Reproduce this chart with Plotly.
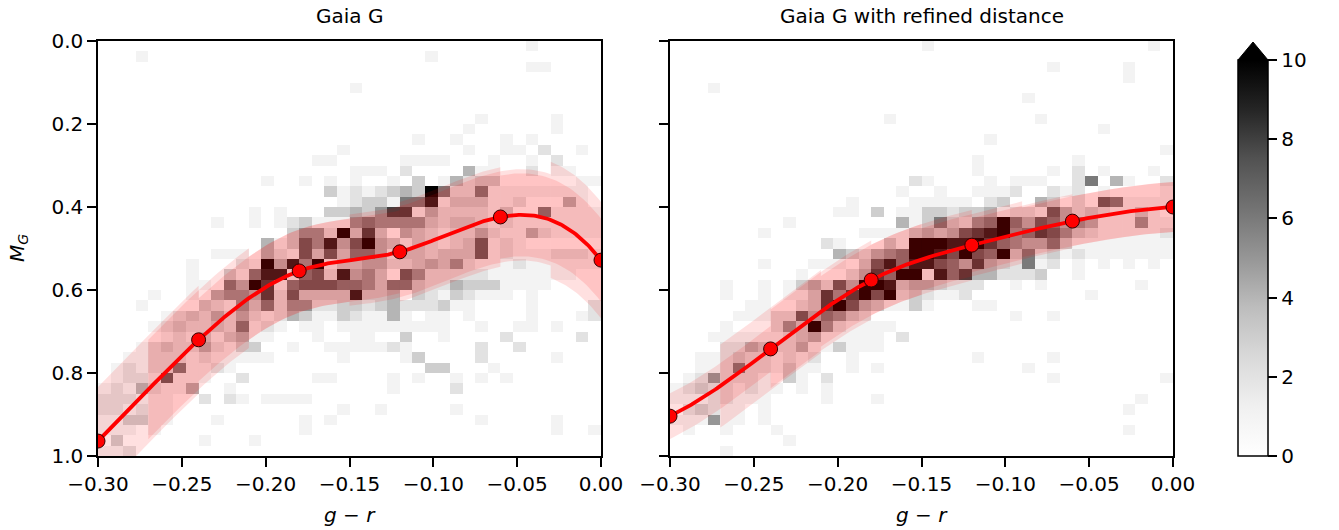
import numpy as np
import plotly.graph_objects as go

# ---------------- data ----------------
bin_edges_x = np.linspace(-0.30, 0.00, 41)
bin_edges_y = np.linspace(0.0, 1.0, 41)

knots_x = [-0.30, -0.24, -0.18, -0.12, -0.06, 0.00]
knots_gaia = [0.964, 0.720, 0.554, 0.508, 0.424, 0.528]
knots_refined = [0.904, 0.742, 0.576, 0.492, 0.434, 0.400]

band_starts = [-0.30, -0.27, -0.24, -0.21, -0.18, -0.15, -0.12, -0.09, -0.06, -0.03]
band_hw_gaia = [0.13, 0.12, 0.10, 0.10, 0.10, 0.11, 0.12, 0.11, 0.10, 0.14]
band_hw_refined = [0.055, 0.10, 0.095, 0.085, 0.085, 0.075, 0.065, 0.06, 0.06, 0.06]

# 2D histogram counts, rows top (M=0) to bottom (M=1), '.'=0, 'A'=10+
counts_gaia = [
    ".......... .......... .......... ....1.....",
    "...1...... .......... ......1... ..........",
    ".......... .......... .......... ....11....",
    ".......... .......... .......... ..........",
    ".......... .......... 1......... ..........",
    ".......... .......... .......... ..........",
    ".......... .......... .......... ..........",
    ".......... .......... .......... 1.....1...",
    ".......... .......... .........1 ......1...",
    ".......... .......... .....1..1. ..1.1.....",
    ".......... .........1 .........1 ..11.2..1.",
    ".......... .......11. ....1111.. .1..1.2...",
    ".......... .......... 111.2....4 11..2.11..",
    ".......... ...1..1.1. 1..1.3.142 33......11",
    ".......... ........31 212343A622 611111111.",
    ".......... .........1 2331669133 3112...41.",
    ".......... ..1.1...33 4358814222 213..61111",
    ".........1 ..1.123111 5655553233 2121111111",
    ".......... .....3552A 383.432122 4211421111",
    ".......... ...4137594 7A43132123 7121......",
    ".........1 11.4217373 6641332333 7121112221",
    ".......1.. .21A495A13 3442234352 1112111111",
    ".......1.. 3169916729 453.752222 21111111..",
    ".......11. 64A8167776 6536632243 331111....",
    "....1..1.4 5548273333 9334.32132 111.1.....",
    "...1....32 1536255223 3234222311 ....1....2",
    ".....12324 2421243113 21141.11.1 ....1...12",
    "....123223 26121.11.1 11111111.. 1..11.1...",
    ".....12131 3411...1.. 11..3..1.. ..2.....2.",
    "...1232242 133..1..11 11121..... 2..2......",
    "..11222121 1111.....1 ....13.... 2.....1...",
    ".121226112 1......... ......33.. .1........",
    ".12217111. .2.....11. ...1.1..1. 1.1.......",
    "12142114.. 1......... ...1....2. ..........",
    "222111..2. 21.1111... .......... ..........",
    "221211.... .........1 ..1.....1. ..........",
    "113311...1 ......1.1. .......... 1.....1...",
    "111.1..... ......1... .......... ......1..1",
    ".3......1. ..1....... .......... ..........",
    "112....... .......... .......... ..........",
]

counts_refined = [
    ".......... .......... 1......... ........1.",
    ".......... .......... .......... ..........",
    ".......... .......... .......... 1.....1...",
    ".......... .......... .......... ......1...",
    "...1...... .......... .......... ..........",
    ".......... .......... ........1. ..........",
    ".......... .......... .......... ..........",
    ".......... .......1.. .........1 ..........",
    ".......... .......... .......... ....1.....",
    ".......... .......... .....1.... ..........",
    ".......... .......... .......... .........1",
    ".......... .......... ....1..... ..1.......",
    ".......... .......... ....1..... 1.2.1...1.",
    ".......... .........2 1....1.111 ..26.41..2",
    ".......... ........1. .1..1112.. 212.1....1",
    ".......... ....1....1 1111.23..4 3.2.761111",
    ".......... ...11.3.11 3323341221 742321131.",
    ".........1 ........41 363256A647 6454111511",
    ".......1.. .....11113 434789A568 7532111112",
    ".......... ..21...31A AA99A86544 6311111111",
    ".......... ...432456A A97A76A362 3121111111",
    ".......1.. .111.37969 9764843261 2.1.1.1.1.",
    ".......... 1...2486AA 1968442223 ..1.......",
    "....1..1.1 34274AA934 43222..1.1 .......1..",
    "....1..1.1 13858A7A23 2112...... ...1......",
    "......11.. 238A743113 1...11.... ..........",
    ".....11122 746532.... .......1.. 1.........",
    "....1...25 3A521111.. .......... ..........",
    "...1111112 3411111.2. .......... ..........",
    "....224322 4113111... .......... ..........",
    "..11232212 12..1..... ....1..... 1.........",
    "..11262213 11..1.1... ........1. ..........",
    ".1252221.3 1.2....... .......... 1........1",
    "123221211. 1.1....... .......... ..........",
    "11122111.. ..1...1... .......... .......1..",
    ".23211.1.. .......... .......... ......1...",
    "111511.1.. .......... .......... ..........",
    ".1..1...1. .......... .......... ......1...",
    ".........1 .......... .......... ..........",
    "....1..... .......... .......... ..........",
]

x_tick_vals = [-0.30, -0.25, -0.20, -0.15, -0.10, -0.05, 0.00]
x_tick_text = ["\u22120.30", "\u22120.25", "\u22120.20", "\u22120.15", "\u22120.10", "\u22120.05", "0.00"]
y_tick_vals = [0.0, 0.2, 0.4, 0.6, 0.8, 1.0]
y_tick_text = ["0.0", "0.2", "0.4", "0.6", "0.8", "1.0"]
cbar_tick_vals = [0, 2, 4, 6, 8, 10]
panel_titles = ["Gaia G", "Gaia G with refined distance"]

# ---------------- helpers ----------------
def parse(rows):
    out = []
    for r in rows:
        s = r.replace(" ", "").ljust(40, ".")[:40]
        out.append([10 if ch == "A" else (0 if ch == "." else int(ch)) for ch in s])
    return np.array(out, float)


def spline_nak(xk, yk, xs):
    """Cubic spline through knots with not-a-knot end conditions."""
    xk = np.asarray(xk, float); yk = np.asarray(yk, float); xs = np.asarray(xs, float)
    n = len(xk); h = np.diff(xk)
    A = np.zeros((n, n)); r = np.zeros(n)
    A[0, 0] = h[1]; A[0, 1] = -(h[0] + h[1]); A[0, 2] = h[0]
    A[-1, -3] = h[-1]; A[-1, -2] = -(h[-2] + h[-1]); A[-1, -1] = h[-2]
    for i in range(1, n - 1):
        A[i, i - 1] = h[i - 1]; A[i, i] = 2 * (h[i - 1] + h[i]); A[i, i + 1] = h[i]
        r[i] = 3 * ((yk[i + 1] - yk[i]) / h[i] - (yk[i] - yk[i - 1]) / h[i - 1])
    c = np.linalg.solve(A, r)
    b = (yk[1:] - yk[:-1]) / h - h * (2 * c[:-1] + c[1:]) / 3
    d = (c[1:] - c[:-1]) / (3 * h)
    idx = np.clip(np.searchsorted(xk, xs) - 1, 0, n - 2)
    dx = xs - xk[idx]
    return yk[idx] + b[idx] * dx + c[idx] * dx ** 2 + d[idx] * dx ** 3


W, H = 1339, 530
FONT = "DejaVu Sans"
FS = 20
greys = [[0.0, "#ffffff"], [0.125, "#f0f0f0"], [0.25, "#d9d9d9"], [0.375, "#bdbdbd"],
         [0.5, "#969696"], [0.625, "#737373"], [0.75, "#525252"], [0.875, "#252525"], [1.0, "#000000"]]

xc = 0.5 * (bin_edges_x[:-1] + bin_edges_x[1:])
yc = 0.5 * (bin_edges_y[:-1] + bin_edges_y[1:])

fig = go.Figure()
panels = [
    (counts_gaia, knots_gaia, band_hw_gaia, "x", "y"),
    (counts_refined, knots_refined, band_hw_refined, "x2", "y2"),
]
for counts, ky, hw, xa, ya in panels:
    fig.add_trace(go.Heatmap(z=parse(counts), x=xc, y=yc, coloraxis="coloraxis",
                             xaxis=xa, yaxis=ya, hoverinfo="skip"))
    for s, w in zip(band_starts, hw):
        xs = np.linspace(max(s, -0.30), min(s + 0.06, 0.0), 30)
        yy = spline_nak(knots_x, ky, xs)
        px = np.concatenate([xs, xs[::-1]])
        py = np.concatenate([yy - w, (yy + w)[::-1]])
        fig.add_trace(go.Scatter(x=px, y=py, fill="toself", mode="lines",
                                 line=dict(width=0), fillcolor="rgba(255,0,0,0.12)",
                                 xaxis=xa, yaxis=ya, hoverinfo="skip", showlegend=False))
    xf = np.linspace(-0.30, 0.0, 301)
    fig.add_trace(go.Scatter(x=xf, y=spline_nak(knots_x, ky, xf), mode="lines",
                             line=dict(color="#ff0000", width=3.8),
                             xaxis=xa, yaxis=ya, showlegend=False, hoverinfo="skip"))
    fig.add_trace(go.Scatter(x=knots_x, y=ky, mode="markers",
                             marker=dict(color="#ff0000", size=14, line=dict(color="#330000", width=1)),
                             xaxis=xa, yaxis=ya, showlegend=False, hoverinfo="skip"))

ax_common = dict(showline=True, mirror=True, linecolor="black", linewidth=1.5,
                 ticks="outside", ticklen=9, tickwidth=1.5, tickcolor="black", automargin=False,
                 showgrid=False, zeroline=False, tickfont=dict(family=FONT, size=FS, color="black"))
ydom = [1 - 456 / H, 1 - 41 / H]
fig.update_layout(
    template="none",
    width=W, height=H, margin=dict(l=0, r=0, t=0, b=0, autoexpand=False),
    paper_bgcolor="white", plot_bgcolor="white", showlegend=False,
    font=dict(family=FONT, size=FS, color="black"),
    xaxis=dict(domain=[98 / W, 601 / W], range=[-0.30, 0.0], tickvals=x_tick_vals,
               ticktext=x_tick_text, anchor="y", **ax_common),
    yaxis=dict(domain=ydom, range=[1.0, 0.0], tickvals=y_tick_vals, ticktext=y_tick_text,
               anchor="x", **ax_common),
    xaxis2=dict(domain=[670 / W, 1173 / W], range=[-0.30, 0.0], tickvals=x_tick_vals,
                ticktext=x_tick_text, anchor="y2", **ax_common),
    yaxis2=dict(domain=ydom, range=[1.0, 0.0], tickvals=y_tick_vals, showticklabels=False,
                anchor="x2", **ax_common),
    coloraxis=dict(colorscale=greys, cmin=0, cmax=10,
                   colorbar=dict(thickness=30, thicknessmode="pixels",
                                 len=396 / H, lenmode="fraction", y=1 - 456 / H, yanchor="bottom",
                                 x=1238 / W, xanchor="left", xpad=0, ypad=0,
                                 outlinewidth=1.5, outlinecolor="black",
                                 ticks="outside", ticklen=9, tickwidth=1.5, tickcolor="black",
                                 tickvals=cbar_tick_vals,
                                 tickfont=dict(family=FONT, size=FS, color="black"))),
)

ann = [
    dict(text=panel_titles[0], x=(98 + 601) / 2 / W, y=1 - 16 / H),
    dict(text=panel_titles[1], x=(670 + 1173) / 2 / W, y=1 - 16 / H),
    dict(text="<i>g</i> \u2212 <i>r</i>", x=(98 + 601) / 2 / W, y=1 - 515 / H),
    dict(text="<i>g</i> \u2212 <i>r</i>", x=(670 + 1173) / 2 / W, y=1 - 515 / H),
]
for a in ann:
    fig.add_annotation(xref="paper", yref="paper", showarrow=False, xanchor="center",
                       yanchor="middle", font=dict(family=FONT, size=FS, color="black"), **a)
fig.add_annotation(xref="paper", yref="paper", showarrow=False, x=18 / W, y=1 - 248 / H,
                   text="<i>M</i><sub><i>G</i></sub>", textangle=-90, xanchor="center",
                   yanchor="middle", font=dict(family=FONT, size=FS, color="black"))

# colorbar extension triangle
x0, x1, xm = 1238 / W, 1268 / W, 1253 / W
yb, yt = 1 - 60 / H, 1 - 42 / H
fig.add_shape(type="path", xref="paper", yref="paper",
              path=f"M {x0},{yb} L {xm},{yt} L {x1},{yb} Z",
              fillcolor="black", line=dict(color="black", width=1))

fig.write_html("out.html")
